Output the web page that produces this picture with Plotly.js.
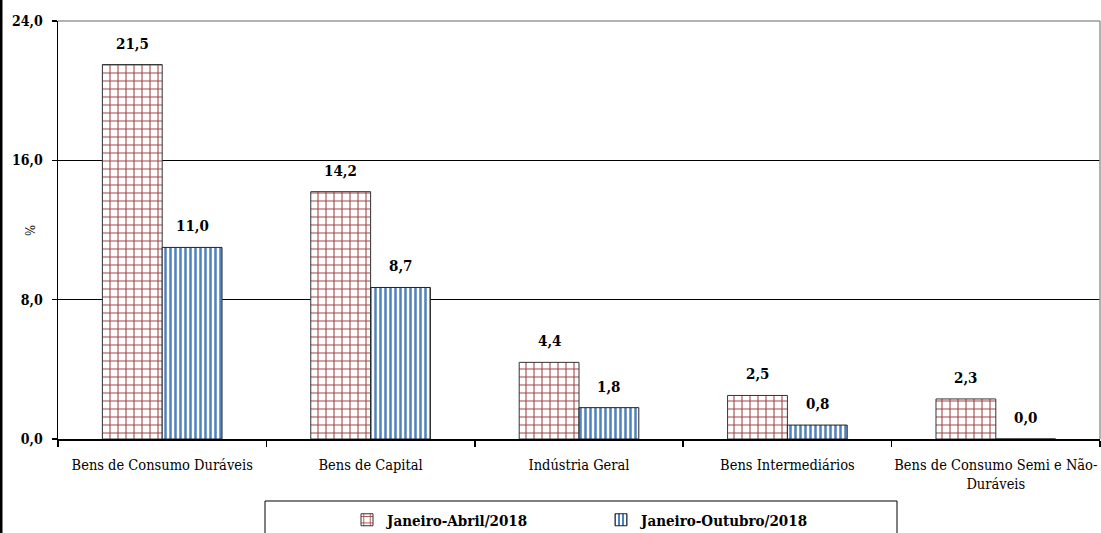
<!DOCTYPE html>
<html>
<head>
<meta charset="utf-8">
<script src="https://cdn.plot.ly/plotly-3.0.1.min.js"></script>
<style>html,body{margin:0;padding:0;background:#fff;}#chart{width:1101px;height:533px;}</style>
</head>
<body>
<div id="chart"></div>
<script>
const categories = ["Bens de Consumo Duráveis", "Bens de Capital", "Indústria Geral", "Bens Intermediários", "Bens de Consumo Semi e Não-<br>Duráveis"];
const seriesNames = ["Janeiro-Abril/2018", "Janeiro-Outubro/2018"];
const janeiroAbril = [21.5, 14.2, 4.4, 2.5, 2.3];
const janeiroOutubro = [11.0, 8.7, 1.8, 0.8, 0.0];
const yTicks = [0, 8, 16, 24];
const yAxisTitle = "%";

const FONT = "DejaVu Serif Condensed, DejaVu Serif, serif";
const W = 1101, H = 533, L = 58, R = 1, T = 21, B = 94;
const pw = W - L - R, ph = H - T - B;
const px = v => (v - L) / pw;
const py = v => (H - B - v) / ph;
const BARGAP = 0.426;
const halfBar = (pw / categories.length) * (1 - BARGAP) / 4;

const fmt = v => v.toFixed(1).replace(".", ",");

const traces = [
  {
    type: "bar", name: seriesNames[0], x: categories, y: janeiroAbril,
    marker: { color: "#ffffff", line: { color: "#333333", width: 1 },
      pattern: { shape: "+", fgcolor: "#A24545", bgcolor: "#ffffff", size: 8, solidity: 0.25 } }
  },
  {
    type: "bar", name: seriesNames[1], x: categories, y: janeiroOutubro,
    marker: { color: "#ffffff", line: { color: "#222222", width: 1 },
      pattern: { shape: "|", fgcolor: "#4F81BD", bgcolor: "#ffffff", size: 5, solidity: 0.5 } }
  }
];

const annotations = [];
[janeiroAbril, janeiroOutubro].forEach((series, si) => {
  series.forEach((v, i) => {
    annotations.push({
      xref: "x", yref: "y", x: categories[i], y: v, text: fmt(v),
      xshift: si === 0 ? -halfBar : halfBar, yshift: 10, yanchor: "bottom", showarrow: false,
      font: { family: FONT, size: 15, color: "#000", weight: "bold" }
    });
  });
});
annotations.push({
  xref: "paper", yref: "paper", x: px(30), y: py(231), text: yAxisTitle, textangle: -90,
  showarrow: false, xanchor: "center", yanchor: "middle",
  font: { family: FONT, size: 13, color: "#000" }
});

const layout = {
  width: W, height: H,
  margin: { l: L, r: R, t: T, b: B, pad: 0, autoexpand: false },
  paper_bgcolor: "#fff", plot_bgcolor: "#fff",
  separators: ",.",
  barmode: "group", bargap: BARGAP, bargroupgap: 0,
  font: { family: FONT, size: 13, color: "#000" },
  showlegend: true,
  legend: { orientation: "h", x: 0.5 + 22 / pw, xanchor: "center", y: py(520), yanchor: "middle",
    font: { family: FONT, size: 15, weight: "bold", color: "#000" },
    entrywidth: 209, entrywidthmode: "pixels", itemwidth: 30, bgcolor: "rgba(0,0,0,0)", traceorder: "normal" },
  xaxis: {
    type: "category", showgrid: false, zeroline: false, automargin: false, tickangle: 0,
    showline: true, linecolor: "#000", linewidth: 1.5,
    ticks: "outside", tickson: "boundaries", ticklen: 6, tickcolor: "#000", tickwidth: 1.5,
    tickfont: { family: FONT, size: 14.5, color: "#000" }, ticklabelstandoff: 12,
    fixedrange: true
  },
  yaxis: {
    range: [0, 24], tickvals: yTicks, tickformat: ".1f", automargin: false,
    showgrid: true, gridcolor: "#000", gridwidth: 1.4, zeroline: false,
    showline: true, linecolor: "#000", linewidth: 1.5,
    ticks: "outside", ticklen: 5, tickcolor: "#000", tickwidth: 1.5,
    tickfont: { family: FONT, size: 14, color: "#000", weight: "bold" }, ticklabelstandoff: 6,
    fixedrange: true
  },
  annotations: annotations,
  shapes: [
    { type: "line", xref: "paper", yref: "paper", x0: 0, x1: 1, y0: 1, y1: 1, line: { color: "#999", width: 1.5 } },
    { type: "line", xref: "paper", yref: "paper", x0: 1, x1: 1, y0: 0, y1: 1, line: { color: "#999", width: 1.5 } },
    { type: "line", xref: "paper", yref: "paper", x0: px(1), x1: px(1), y0: py(H), y1: py(0), line: { color: "#000", width: 3 } },
    { type: "rect", xref: "paper", yref: "paper", x0: px(265), x1: px(897), y0: py(501), y1: py(H + 5), line: { color: "#000", width: 1 } }
  ]
};

Plotly.newPlot("chart", traces, layout, { displayModeBar: false, staticPlot: true });
</script>
</body>
</html>
